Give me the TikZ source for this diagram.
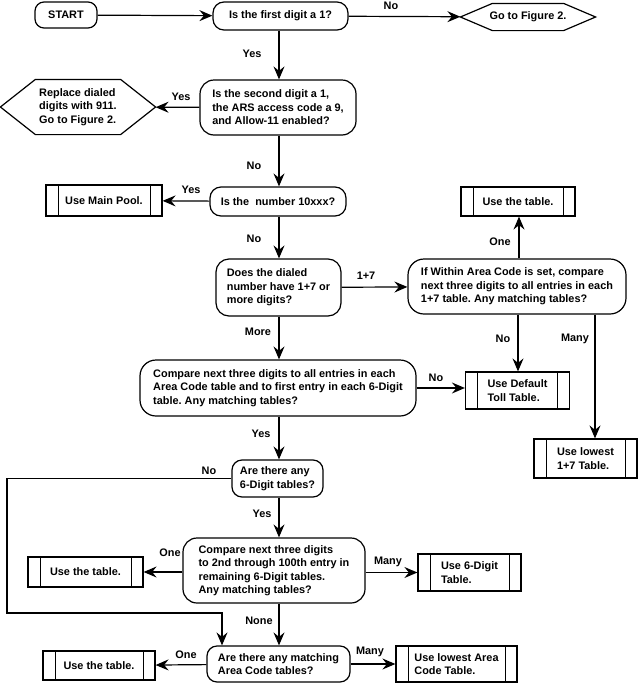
\documentclass[tikz,border=0pt]{standalone}
\usepackage{fontspec}
\setmainfont{Liberation Sans}
\usetikzlibrary{arrows.meta,calc}
\frenchspacing
\begin{document}
\begin{tikzpicture}[x=1pt,y=-1pt,
  font=\fontsize{10.9}{13.5}\selectfont\bfseries\frenchspacing,
  line width=1.2pt,
  dec/.style={draw, rounded corners=11pt, align=left, inner sep=0pt},
  hexa/.style={align=left, inner sep=0pt},
  proc/.style={draw, align=left, inner sep=0pt,
    path picture={\draw[line width=1pt] ([xshift=12pt]path picture bounding box.north west) -- ([xshift=12pt]path picture bounding box.south west)
      ([xshift=-12pt]path picture bounding box.north east) -- ([xshift=-12pt]path picture bounding box.south east);}},
  arr/.style={-{Stealth[length=13pt,width=11pt,inset=4.5pt]}},
  lbl/.style={inner sep=0pt}]
\useasboundingbox (0,0) rectangle (638,683);

% decision / step boxes
\node[dec, rounded corners=9pt, minimum width=62, minimum height=26] (start) at (66,15) {START};
\node[dec, minimum width=135, minimum height=28] (q1) at (280.5,16) {Is the first digit a 1?};
\node[hexa, minimum width=134, minimum height=26] (fa) at (528,17) {Go to Figure 2.};
\node[dec, rounded corners=14pt, minimum width=156, minimum height=55] (q2) at (278,107.5) {Is the second digit a 1,\\the ARS access code a 9,\\and Allow-11 enabled?};
\node[hexa, minimum width=154, minimum height=54] (rep) at (78,107) {Replace dialed\\digits with 911.\\Go to Figure 2.};
\node[dec, minimum width=136, minimum height=29] (q3) at (278,201.5) {Is the\ \ number 10xxx?};
\node[proc, minimum width=116, minimum height=31] (pool) at (104,200.5) {Use Main Pool.};
\node[dec, rounded corners=13pt, minimum width=125, minimum height=57] (q4) at (278.5,287.5) {Does the dialed\\number have 1+7 or\\more digits?};
\node[dec, rounded corners=16pt, minimum width=218, minimum height=55] (q5) at (517,286.5) {If Within Area Code is set, compare\\next three digits to all entries in each\\1+7 table. Any matching tables?};
\node[proc, minimum width=114, minimum height=29] (tab1) at (518,201.5) {Use the table.};
\node[dec, rounded corners=16pt, minimum width=276, minimum height=56] (q6) at (278,388) {Compare next three digits to all entries in each\\Area Code table and to first entry in each 6-Digit\\table. Any matching tables?};
\node[proc, minimum width=104, minimum height=37] (toll) at (517.5,390.5) {Use Default\\Toll Table.};
\node[proc, minimum width=103, minimum height=39] (low17) at (585.5,458.5) {Use lowest\\1+7 Table.};
\node[dec, rounded corners=10pt, minimum width=91, minimum height=37] (q7) at (277.5,478.5) {Are there any\\6-Digit tables?};
\node[dec, rounded corners=14pt, minimum width=182, minimum height=65] (q8) at (274,570.5) {Compare next three digits\\to 2nd through 100th entry in\\remaining 6-Digit tables.\\Any matching tables?};
\node[proc, minimum width=115, minimum height=30] (tab2) at (85.5,572) {Use the table.};
\node[proc, minimum width=103, minimum height=37] (six) at (469.5,572.5) {Use 6-Digit\\Table.};
\node[dec, rounded corners=10pt, minimum width=143, minimum height=36] (q9) at (278.5,664) {Are there any matching\\Area Code tables?};
\node[proc, minimum width=112, minimum height=29] (tab3) at (99,665.5) {Use the table.};
\node[proc, minimum width=121, minimum height=36] (area) at (456.5,664) {Use lowest Area\\Code Table.};

% hexagon outlines
\draw (fa.west) -- ([xshift=32pt]fa.north west) -- ([xshift=-32pt]fa.north east) -- (fa.east)
  -- ([xshift=-32pt]fa.south east) -- ([xshift=32pt]fa.south west) -- cycle;
\draw (rep.west) -- ([xshift=35pt]rep.north west) -- ([xshift=-35pt]rep.north east) -- (rep.east)
  -- ([xshift=-35pt]rep.south east) -- ([xshift=35pt]rep.south west) -- cycle;

% helper coordinates
\coordinate (trunk) at (279,0);
\coordinate (many) at (595,0);
\coordinate (nob) at (518,0);
\coordinate (oneb) at (519,0);
\coordinate (c1) at (7,613);
\coordinate (c2) at (222,613);

% connectors
\draw[arr] (start) -- (q1);
\draw[arr] (q1) -- (fa);
\draw[arr] (q1.south -| trunk) -- (q2.north -| trunk);
\draw[arr] (q2) -- (rep);
\draw[arr] (q2.south -| trunk) -- (q3.north -| trunk);
\draw[arr] (q3) -- (pool);
\draw[arr] (q3.south -| trunk) -- (q4.north -| trunk);
\draw[arr] (q4) -- (q5);
\draw[arr] (q5.north -| oneb) -- (tab1.south -| oneb);
\draw[arr] (q5.south -| nob) -- (toll.north -| nob);
\draw[arr] (q5.south -| many) -- (low17.north -| many);
\draw[arr] (q4.south -| trunk) -- (q6.north -| trunk);
\draw[arr] (q6.east) -- (toll.west |- q6.east);
\draw[arr] (q6.south -| trunk) -- (q7.north -| trunk);
\draw[arr] (q7.west) -- (q7.west -| c1) -- (c1) -- (c2) -- (q9.north -| c2);
\draw[arr] (q7.south -| trunk) -- (q8.north -| trunk);
\draw[arr] (q8.west |- tab2) -- (tab2.east);
\draw[arr] (q8.east |- six) -- (six.west);
\draw[arr] (q8.south -| trunk) -- (q9.north -| trunk);
\draw[arr] (q9) -- (tab3);
\draw[arr] (q9) -- (area);

% labels
\node[lbl] (l1) at (391,6) {No};
\node[lbl] (l2) at (252,54) {Yes};
\node[lbl] (l3) at (181,97) {Yes};
\node[lbl] (l4) at (254,166) {No};
\node[lbl] (l5) at (191,190) {Yes};
\node[lbl] (l6) at (254,239) {No};
\node[lbl] (l7) at (366,276) {1+7};
\node[lbl] (l8) at (258,332) {More};
\node[lbl] (l9) at (500,242) {One};
\node[lbl] (l10) at (503,339) {No};
\node[lbl] (l11) at (575,339) {Many};
\node[lbl] (l12) at (436,378) {No};
\node[lbl] (l13) at (261,434) {Yes};
\node[lbl] (l14) at (209,471) {No};
\node[lbl] (l15) at (262,514) {Yes};
\node[lbl] (l16) at (170,553) {One};
\node[lbl] (l17) at (388,562) {Many};
\node[lbl] (l18) at (259,621) {None};
\node[lbl] (l19) at (186,655) {One};
\node[lbl] (l20) at (370,652) {Many};
\end{tikzpicture}
\end{document}
